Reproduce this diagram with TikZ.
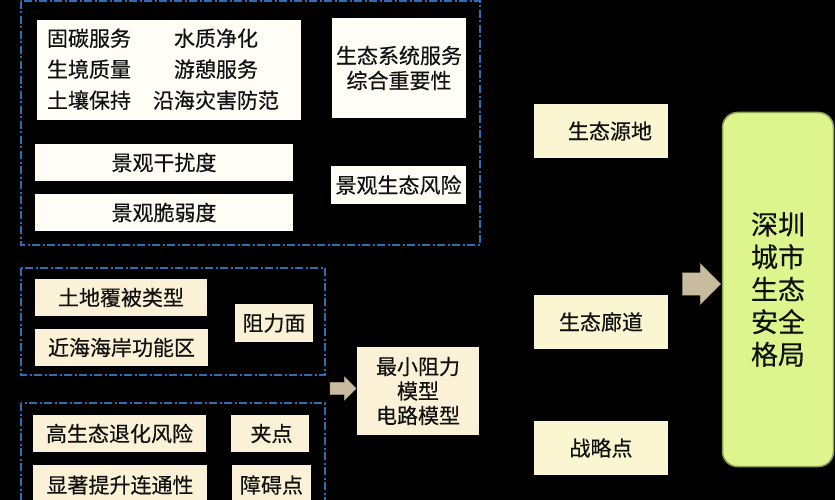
\documentclass[tikz,border=0pt]{standalone}
\usepackage{fontspec}
\setmainfont{Noto Sans CJK SC}[FakeBold=0.4]
\usetikzlibrary{shapes.arrows}
\definecolor{cream}{HTML}{FAF1D6}
\definecolor{paper}{HTML}{FFFDF6}
\definecolor{lemon}{HTML}{FBF6D2}
\definecolor{lime}{HTML}{DDF58C}
\definecolor{limeedge}{HTML}{8E9C55}
\definecolor{frameblue}{HTML}{2F6CB8}
\definecolor{arrowfill}{HTML}{C9BC9E}
\definecolor{ink}{HTML}{111111}

\begin{document}
\begin{tikzpicture}[x=1pt,y=-1pt,every node/.style={text=ink, align=center, inner sep=0pt, font=\fontsize{21}{25}\selectfont},box/.style={fill=cream, minimum height=37pt},ybox/.style={fill=lemon, minimum width=134pt, minimum height=54pt},frame/.style={draw=frameblue, line width=1.6pt, dash pattern=on 8pt off 2.5pt on 2pt off 2.5pt},arr/.style={single arrow, fill=arrowfill, draw=arrowfill!85!black, line width=0.4pt, inner xsep=0pt}]
\useasboundingbox (0,0) rectangle (835,500);
\fill[black] (0,0) rectangle (835,500);
% dashed groups
\draw[frame] (21,1) rectangle (480,245);
\draw[frame] (21,268) rectangle (325,375);
\draw[frame] (21,403) rectangle (325,512);
% ecosystem services
\node[fill=paper, minimum width=264pt, minimum height=100pt] (svc) at (169,70) {};
\node (svctext) at (163,71) {\fontsize{21}{31}\selectfont\begin{tabular}{@{}c@{\hspace{22pt}}c@{}}固碳服务 & 水质净化\\ 生境质量 & 游憩服务\\ 土壤保持 & 沿海灾害防范\end{tabular}};
\node[fill=paper, minimum width=134pt, minimum height=100pt] (sys) at (399,68) {生态系统服务\\综合重要性};
\node[box, fill=paper, minimum width=258pt] (dist) at (164,162.5) {景观干扰度};
\node[box, fill=paper, minimum width=258pt] (frag) at (164,212.5) {景观脆弱度};
\node[box, fill=paper, minimum width=135pt, minimum height=38pt] (risk) at (398.5,185) {景观生态风险};
% resistance
\node[box, minimum width=172pt] (land) at (121,297.5) {土地覆被类型};
\node[box, minimum width=173pt] (coast) at (121.5,347.5) {近海海岸功能区};
\node[box, minimum width=78pt, minimum height=38pt] (resist) at (274,323) {阻力面};
% key points
\node[box, minimum width=173pt] (degr) at (119.5,433.5) {高生态退化风险};
\node[box, minimum width=78pt] (pinch) at (270,433.5) {\hspace*{3pt}夹点};
\node[box, minimum width=174pt, minimum height=40pt] (conn) at (120,485) {显著提升连通性};
\node[box, minimum width=79pt, minimum height=40pt] (barr) at (271.5,485) {障碍点};
\node[box, minimum width=122pt, minimum height=88pt, font=\fontsize{21}{24.5}\selectfont] (mcr) at (418,391) {最小阻力\\模型\\电路模型};
\node[arr, inner ysep=6pt, minimum height=26pt, single arrow head extend=5.5pt] (arrmcr) at (340,388.5) {};
% outputs
\node[ybox] (src) at (601,131) {\hspace*{18pt}生态源地};
\node[ybox] (cor) at (601,322) {生态廊道};
\node[ybox] (strat) at (601,448) {战略点};
\node[arr, inner ysep=11pt, minimum height=38pt, single arrow head extend=9pt] (arrsz) at (696,284) {};
\node[fill=lime, draw=limeedge, line width=1.5pt, rounded corners=15pt, minimum width=111pt, minimum height=354pt, font=\fontsize{27}{32.5}\selectfont] (sz) at (778,289.5) {深圳\\城市\\生态\\安全\\格局};
\end{tikzpicture}
\end{document}
